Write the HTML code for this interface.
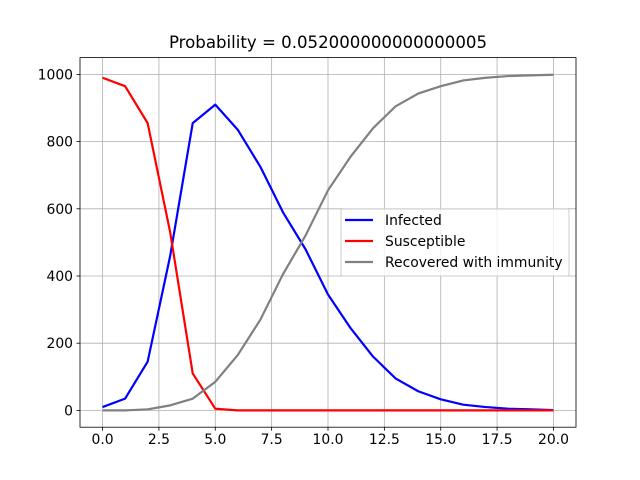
<!DOCTYPE html>
<html><head><meta charset="utf-8"><style>
html,body{margin:0;padding:0;background:#fff;}
svg{display:block;font-family:"DejaVu Sans","Liberation Sans",sans-serif;}
</style></head><body>
<svg id="chart" width="640" height="480" viewBox="0 0 640 480">
<rect width="640" height="480" fill="#fff"/>
<g id="grid"></g>
<g id="series"></g>
<rect x="80" y="57.6" width="496" height="369.6" fill="none" stroke="#000" stroke-width="0.8"/>
<g id="ticks"></g>
<text x="328" y="48" text-anchor="middle" font-size="16.6">Probability = 0.052000000000000005</text>
<g id="legend">
<rect x="341" y="209" width="228" height="67" fill="#fff" fill-opacity="0.8" stroke="#ccc" rx="2"/>
</g>
</svg>
<script>
const days = [0,1,2,3,4,5,6,7,8,9,10,11,12,13,14,15,16,17,18,19,20];
const infected = [10,35,145,460,855,910,835,725,590,480,345,245,160,95,57,33,17,10,5,3,1];
const susceptible = [990,965,855,530,110,5,0,0,0,0,0,0,0,0,0,0,0,0,0,0,0];
const recovered = [0,0,3,15,35,85,165,270,405,520,655,755,840,905,943,965,982,990,995,997,999];
const xTicks = [0,2.5,5,7.5,10,12.5,15,17.5,20];
const xTickLabels = ["0.0","2.5","5.0","7.5","10.0","12.5","15.0","17.5","20.0"];
const yTicks = [0,200,400,600,800,1000];
const seriesNames = ["Infected","Susceptible","Recovered with immunity"];
const seriesColors = ["#0000ff","#ff0000","#808080"];

const NS="http://www.w3.org/2000/svg";
const L=80,R=576,T=57.6,B=427.2;
const xMin=-1,xMax=21,yMin=-50,yMax=1050;
const X=v=>L+(v-xMin)/(xMax-xMin)*(R-L);
const Y=v=>B-(v-yMin)/(yMax-yMin)*(B-T);
function mk(tag,attrs,parent){const e=document.createElementNS(NS,tag);for(const k in attrs)e.setAttribute(k,attrs[k]);parent.appendChild(e);return e;}
const grid=document.getElementById('grid'),ticks=document.getElementById('ticks'),ser=document.getElementById('series'),leg=document.getElementById('legend');
xTicks.forEach((t,i)=>{
  const g=mk('line',{x1:X(t),x2:X(t),y1:T,y2:B,stroke:'#b0b0b0','stroke-width':0.8},grid);
  
  
  mk('line',{x1:X(t),x2:X(t),y1:B,y2:B+3.5,stroke:'#000','stroke-width':0.8},ticks);
  const tx=mk('text',{x:X(t),y:B+17,'text-anchor':'middle','font-size':13.9},ticks);
  tx.textContent=xTickLabels[i];
  
  
});
yTicks.forEach(t=>{
  const g=mk('line',{x1:L,x2:R,y1:Y(t),y2:Y(t),stroke:'#b0b0b0','stroke-width':0.8},grid);
  
  
  mk('line',{x1:L-3.5,x2:L,y1:Y(t),y2:Y(t),stroke:'#000','stroke-width':0.8},ticks);
  const tx=mk('text',{x:L-7,y:Y(t)+5,'text-anchor':'end','font-size':13.9},ticks);
  tx.textContent=String(t);
  
  
});
[infected,susceptible,recovered].forEach((arr,si)=>{
  const p=mk('polyline',{points:arr.map((v,i)=>X(days[i])+','+Y(v)).join(' '),fill:'none',stroke:seriesColors[si],'stroke-width':2.2,'stroke-linejoin':'round'},ser);
  
  
  const y=220+si*21;
  mk('line',{x1:345,x2:373,y1:y,y2:y,stroke:seriesColors[si],'stroke-width':2.2},leg);
  const tx=mk('text',{x:385,y:y+5,'font-size':13.9},leg);
  tx.textContent=seriesNames[si];
  
  
});
</script>
</body></html>
